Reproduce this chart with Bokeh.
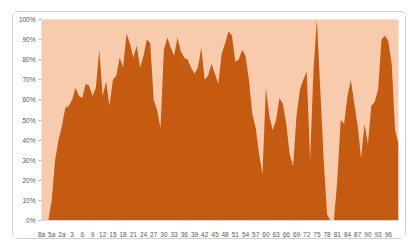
from bokeh.plotting import figure
from bokeh.models import ColumnDataSource, Range1d, FixedTicker, NumeralTickFormatter
from bokeh.embed import file_html
from bokeh.resources import INLINE

# Share per category (percent)
values = [0, 0, 0, 10, 30, 40, 47, 56, 57, 60,
          66, 62, 61, 68, 67, 62, 66, 85, 62, 69,
          57, 70, 72, 81, 76, 93, 88, 81, 87, 76,
          82, 90, 88, 60, 55, 46, 85, 91, 86, 82,
          91, 84, 81, 80, 76, 73, 76, 86, 70, 72,
          78, 73, 68, 83, 88, 94, 92, 79, 80, 85,
          82, 70, 53, 46, 33, 23, 66, 52, 45, 50,
          61, 58, 48, 33, 27, 52, 65, 70, 74, 30,
          75, 100, 65, 30, 3, 0, 0, 20, 50, 48,
          62, 70, 58, 47, 31, 48, 38, 57, 59, 65,
          90, 92, 89, 78, 45, 38]

tick_labels = ["8a", "5a", "2a", "3", "6", "9", "12", "15", "18", "21", "24", "27",
               "30", "33", "36", "39", "42", "45", "48", "51", "54", "57", "60",
               "63", "66", "69", "72", "75", "78", "81", "84", "87", "90", "93", "96"]

y_ticks = [0.0, 0.1, 0.2, 0.3, 0.4, 0.5, 0.6, 0.7, 0.8, 0.9, 1.0]

xs = list(range(len(values)))
src = ColumnDataSource(dict(x=xs, y=[v / 100 for v in values], y0=[0] * len(values)))

p = figure(width=394, height=228, output_backend="svg", toolbar_location=None,
           x_range=Range1d(0, len(values) - 1), y_range=Range1d(0, 1))
p.margin = (11, 0, 0, 12)
p.styles = {"border": "1px solid #d0d0d0", "border-radius": "6px"}
p.min_border_left = 28
p.min_border_right = 9
p.min_border_top = 7
p.min_border_bottom = 16
p.background_fill_color = "#F8CBAD"
p.border_fill_color = "white"
p.outline_line_color = None
p.xgrid.grid_line_color = None
p.ygrid.grid_line_color = None

p.varea(x="x", y1="y0", y2="y", source=src, fill_color="#C55A11")

tick_pos = [i * 3 for i in range(len(tick_labels))]
p.xaxis.ticker = FixedTicker(ticks=tick_pos)
p.xaxis.major_label_overrides = {t: lab for t, lab in zip(tick_pos, tick_labels)}
p.xaxis.axis_line_color = "#d9d9d9"
p.xaxis.major_tick_line_color = None
p.xaxis.minor_tick_line_color = None
p.xaxis.major_label_standoff = 4

p.yaxis.ticker = FixedTicker(ticks=y_ticks)
p.yaxis.formatter = NumeralTickFormatter(format="0%")
p.yaxis.axis_line_color = None
p.yaxis.major_tick_line_color = "#bfbfbf"
p.yaxis.major_tick_out = 3
p.yaxis.major_tick_in = 0
p.yaxis.minor_tick_line_color = None
p.yaxis.major_label_standoff = 3

for ax in (p.xaxis, p.yaxis):
    ax.major_label_text_font = "Liberation Sans"
    ax.major_label_text_font_size = "6.5px"
    ax.major_label_text_color = "#595959"

open("out.html", "w").write(file_html(p, INLINE))
